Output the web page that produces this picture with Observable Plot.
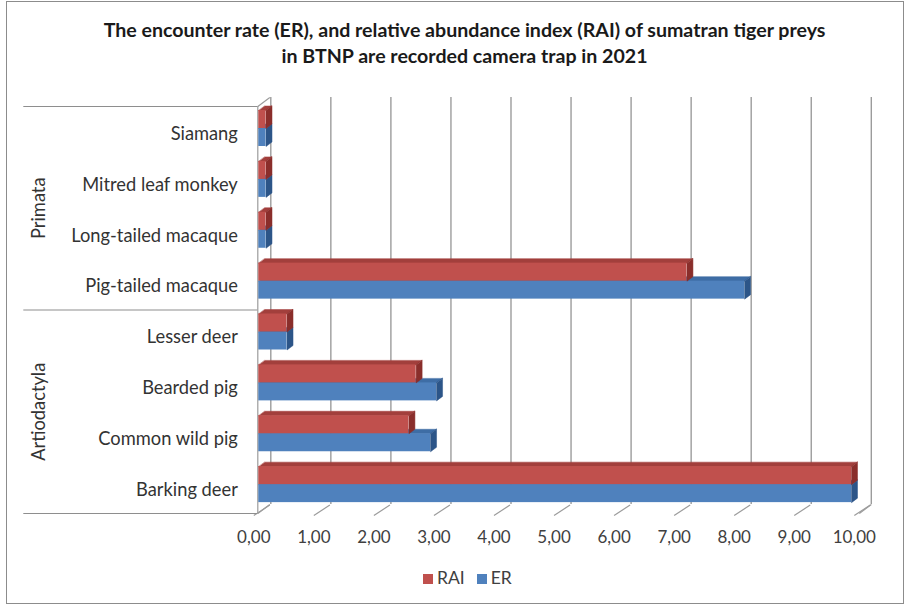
<!DOCTYPE html>
<html>
<head>
<meta charset="utf-8">
<script src="https://cdn.jsdelivr.net/npm/d3@7"></script>
<script src="https://cdn.jsdelivr.net/npm/@observablehq/plot@0.6"></script>
<style>
  html, body { margin: 0; padding: 0; background: #fff; }
  #wrap { position: relative; width: 909px; height: 608px; background: #fff; overflow: hidden; font-family: Lato, "Open Sans", sans-serif; }
  #frame { position: absolute; left: 6px; top: 1px; width: 898px; height: 603px; border: 1px solid #8c8c8c; box-sizing: border-box; }
  #title { position: absolute; top: 17px; left: 10px; width: 909px; text-align: center; font-weight: bold; font-size: 19.6px; line-height: 26px; color: #1a1a1a; }
  #chart { position: absolute; left: 0; top: 0; }
  #legend { position: absolute; top: 567px; left: 423px; white-space: nowrap; font-size: 17.5px; color: #404040; }
  #legend span.item { display: inline-block; margin-right: 12px; }
  #legend span.sw { display: inline-block; width: 10px; height: 10px; margin-right: 4px; vertical-align: 0px; }
</style>
</head>
<body>
<div id="wrap">
  <div id="frame"></div>
  <div id="chart"></div>
  <div id="title">The encounter rate (ER), and relative abundance index (RAI) of sumatran tiger preys<br>in BTNP are recorded camera trap in 2021</div>
  <div id="legend"></div>
</div>
<script>
// Prey species, top to bottom, with their order
const species = ["Siamang", "Mitred leaf monkey", "Long-tailed macaque", "Pig-tailed macaque",
                 "Lesser deer", "Bearded pig", "Common wild pig", "Barking deer"];
const orders = ["Primata", "Artiodactyla"];
const orderOf = ["Primata", "Primata", "Primata", "Primata",
                 "Artiodactyla", "Artiodactyla", "Artiodactyla", "Artiodactyla"];

// Relative abundance index and encounter rate per species
const rai = [0.12, 0.12, 0.12, 7.13, 0.47, 2.62, 2.50, 9.87];
const er  = [0.12, 0.12, 0.12, 8.09, 0.47, 2.96, 2.86, 9.87];

const seriesNames = ["RAI", "ER"];
const xTicks = [0, 1, 2, 3, 4, 5, 6, 7, 8, 9, 10];
const xTickLabels = ["0,00", "1,00", "2,00", "3,00", "4,00", "5,00", "6,00", "7,00", "8,00", "9,00", "10,00"];

// palette: front face, top face, side face
const shades = {
  RAI: { front: "#C0504D", top: "#A23F3C", side: "#8A2E2B" },
  ER:  { front: "#4F81BD", top: "#3E6DA5", side: "#2C5588" }
};

const W = 909, H = 608;
const plotLeft = 258.3, plotRight = 858.8, plotTop = 106, plotBottom = 513;
const px = 10 / (plotRight - plotLeft);                // one pixel in x units
const py = species.length / (plotBottom - plotTop);    // one pixel in y units (rows)

// bar slots inside each row, in pixels from the row top
const slot = { RAI: [4, 22], ER: [22, 40] };
const barDepth = [6, -4.5];
const wallDepth = [12, -9];

const values = { RAI: rai, ER: er };

function facesFor(name) {
  const fronts = [], tops = [], sides = [];
  species.forEach((sp, i) => {
    const v = values[name][i];
    const y1 = i + slot[name][0] * py, y2 = i + slot[name][1] * py;
    const dx = barDepth[0] * px, dy = barDepth[1] * py;
    fronts.push({ x1: 0, x2: v, y1, y2 });
    const tid = sp + "-top";
    [[0, y1], [v, y1], [v + dx, y1 + dy], [dx, y1 + dy]].forEach(([x, y]) => tops.push({ id: tid, x, y }));
    const sid = sp + "-side";
    [[v, y1], [v, y2], [v + dx, y2 + dy], [v + dx, y1 + dy]].forEach(([x, y]) => sides.push({ id: sid, x, y }));
  });
  return { fronts, tops, sides };
}

function barMarks(name) {
  const f = facesFor(name);
  const c = shades[name];
  return [
    Plot.line(f.tops, { x: "x", y: "y", z: "id", curve: "linear-closed", fill: c.top, stroke: c.top, strokeWidth: 0.5 }),
    Plot.line(f.sides, { x: "x", y: "y", z: "id", curve: "linear-closed", fill: c.side, stroke: c.side, strokeWidth: 0.5 }),
    Plot.rect(f.fronts, { x1: "x1", x2: "x2", y1: "y1", y2: "y2", fill: c.front })
  ];
}

const rows = species.map((name, i) => ({ name, pos: i + 0.5 }));
const groupRows = orders.map(o => {
  const idx = orderOf.map((g, i) => g === o ? i : -1).filter(i => i >= 0);
  return { name: o, pos: (d3.min(idx) + d3.max(idx) + 1) / 2 };
});
const groupEdges = [0, 4, 8];
const tickRows = xTicks.map((v, i) => ({ v, label: xTickLabels[i] }));

const gridColor = "#9c9c9c";
const n = species.length;

const chart = Plot.plot({
  width: W,
  height: H,
  marginLeft: plotLeft,
  marginRight: W - plotRight,
  marginTop: plotTop,
  marginBottom: H - plotBottom,
  x: { type: "linear", domain: [0, 10], range: [plotLeft, plotRight], axis: null },
  y: { type: "linear", domain: [0, n], range: [plotTop, plotBottom], axis: null },
  style: { background: "transparent", fontFamily: "Lato, 'Open Sans', sans-serif", overflow: "visible" },
  marks: [
    // back wall gridlines
    Plot.ruleX(xTicks, { x: d => d, y1: 0, y2: n, dx: wallDepth[0], dy: wallDepth[1], stroke: gridColor, strokeWidth: 1.4 }),
    // wall/floor edges
    Plot.ruleX([0], { x: d => d, y1: 0, y2: n, dx: -1, stroke: gridColor, strokeWidth: 1.2 }),
    Plot.link([0, n], { x1: 0, y1: d => d, x2: wallDepth[0] * px, y2: d => d + wallDepth[1] * py, dx: -1, stroke: gridColor, strokeWidth: 1.2 }),
    Plot.link([10], { x1: d => d, y1: n, x2: d => d + wallDepth[0] * px, y2: n + wallDepth[1] * py, stroke: gridColor, strokeWidth: 1.2 }),
    // floor tick marks
    Plot.link(xTicks, { x1: d => d + (wallDepth[0] - 1) * px, y1: n + (wallDepth[1] + 0.5) * py,
                        x2: d => d - 5 * px, y2: n + 2 * py, stroke: gridColor, strokeWidth: 1.2 }),
    // group separators on the category side
    Plot.ruleY(groupEdges, { y: d => d, x1: -235 * px, x2: -1 * px, stroke: "#8e8e8e", strokeWidth: 1.2 }),
    // bars
    ...barMarks("ER"),
    ...barMarks("RAI"),
    // category labels
    Plot.text(rows, { x: 0, y: "pos", text: "name", dx: -21, dy: 2, textAnchor: "end", fontSize: 18.3, fill: "#333" }),
    // order labels
    Plot.text(groupRows, { x: 0, y: "pos", text: "name", dx: -220, rotate: -90, fontSize: 18.3, fill: "#333" }),
    // value axis labels
    Plot.text(tickRows, { x: "v", y: n, text: "label", dx: -5, dy: 24, fontSize: 17, fill: "#404040" })
  ]
});
document.getElementById("chart").appendChild(chart);

// legend
const legend = document.getElementById("legend");
seriesNames.forEach(s => {
  const item = document.createElement("span");
  item.className = "item";
  const sw = document.createElement("span");
  sw.className = "sw";
  sw.style.background = shades[s].front;
  item.appendChild(sw);
  item.appendChild(document.createTextNode(s));
  legend.appendChild(item);
});
</script>
</body>
</html>
